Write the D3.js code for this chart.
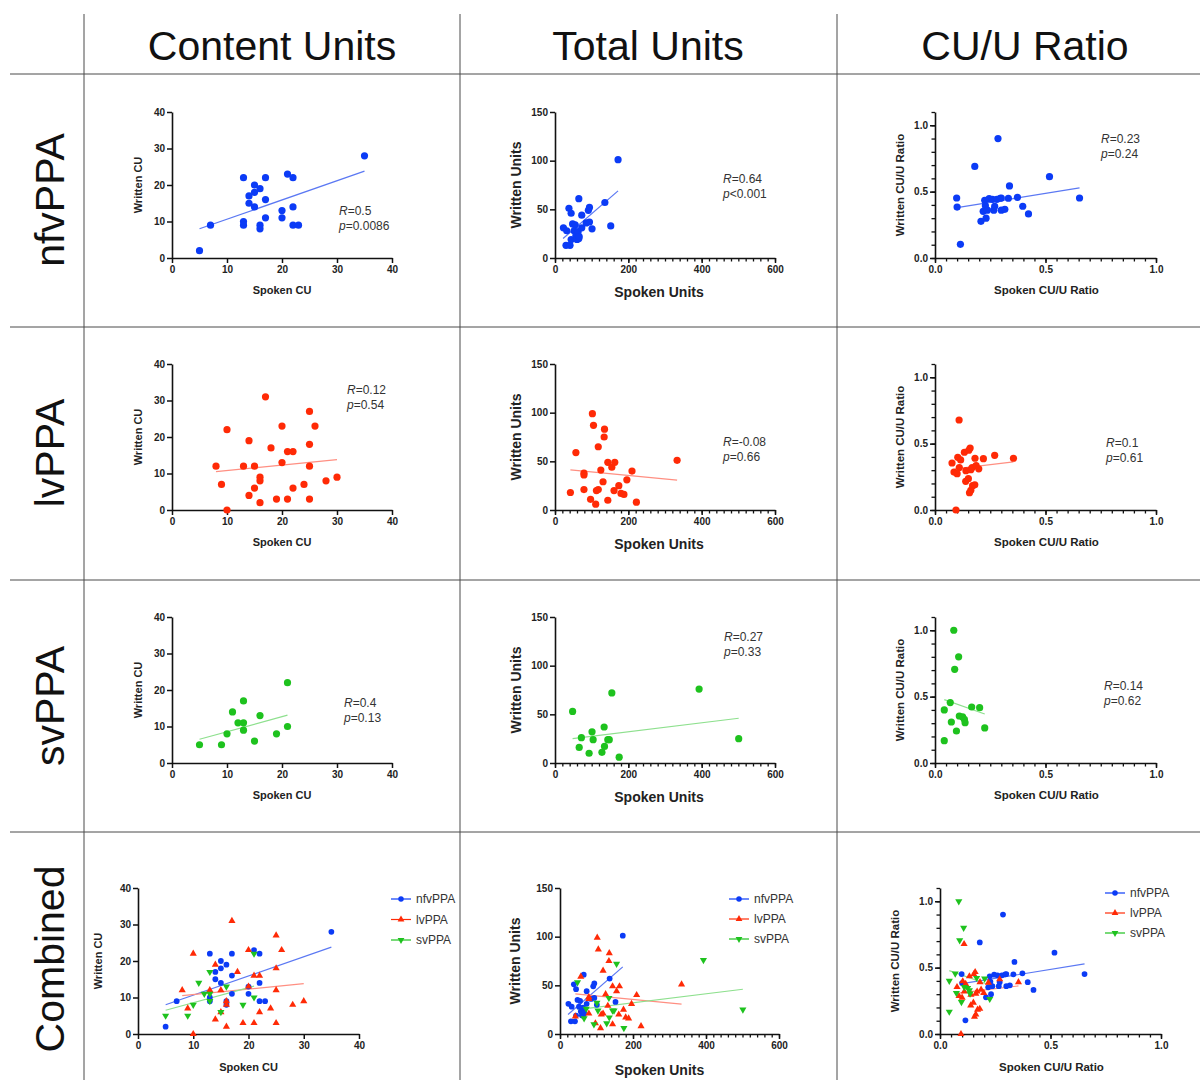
<!DOCTYPE html>
<html><head><meta charset="utf-8">
<script src="https://cdn.jsdelivr.net/npm/d3@7"></script>
<style>
body{margin:0;background:#fff;}
svg{display:block;font-family:"Liberation Sans",Arial,Helvetica,sans-serif;}
</style></head>
<body>
<svg id="chart" width="1200" height="1080"></svg>
<script>
// ---------- DATA ----------
const columnTitles = ["Content Units", "Total Units", "CU/U Ratio"];
const rowTitles = ["nfvPPA", "lvPPA", "svPPA", "Combined"];
const groupNames = ["nfvPPA", "lvPPA", "svPPA"];

// nfvPPA
const nfvCU_spoken  = [5,7,13,13,13,14,14,15,15,15,16,16,16,17,17,17,20,20,21,22,22,22,23,35];
const nfvCU_written = [2,9,22,10,9,17,15,20,18,14,19,9,8,22,16,11,13,11,23,22,14,9,9,28];
const nfvU_spoken   = [23,32,30,41,38,44,48,44,55,52,57,60,65,63,65,73,73,66,85,91,94,94,101,136,152,172];
const nfvU_written  = [31,28,13,13,51,46,35,19,34,28,23,19,61,27,20,44,31,22,36,49,52,37,30,57,33,101];
const nfvR_spoken   = [0.098,0.10,0.115,0.18,0.208,0.218,0.225,0.228,0.231,0.237,0.245,0.26,0.266,0.27,0.28,0.285,0.295,0.30,0.30,0.316,0.332,0.337,0.373,0.397,0.423,0.518,0.654];
const nfvR_written  = [0.452,0.384,0.103,0.69,0.276,0.352,0.435,0.394,0.30,0.36,0.447,0.442,0.36,0.39,0.442,0.90,0.45,0.36,0.452,0.367,0.45,0.543,0.457,0.39,0.332,0.613,0.452];

// lvPPA
const lvCU_spoken  = [8,9,10,10,13,14,14,15,15,16,16,16,17,18,19,20,20,21,21,22,22,24,25,25,25,25,26,28,30];
const lvCU_written = [12,7,22,0,12,19,4,12,6,9,8,2,31,17,3,23,13,16,3,16,6,7,27,18,12,3,23,8,9];
const lvU_spoken   = [42,57,79,79,79,97,102,105,111,113,118,118,125,131,134,135,144,144,155,161,163,174,180,188,196,210,222,333];
const lvU_written  = [18,59,21,38,36,11,99,87,6,20,21,65,41,29,75,83,49,10,44,20,49,25,17,16,31,40,8,51];
const lvR_spoken   = [0.095,0.109,0.077,0.086,0.103,0.11,0.10,0.116,0.133,0.14,0.139,0.151,0.153,0.159,0.162,0.168,0.156,0.162,0.17,0.18,0.181,0.186,0.198,0.219,0.27,0.355];
const lvR_written  = [0.0,0.678,0.354,0.286,0.397,0.32,0.274,0.377,0.435,0.296,0.216,0.236,0.45,0.467,0.304,0.32,0.13,0.148,0.183,0.19,0.39,0.334,0.31,0.387,0.412,0.39];

// svPPA
const svCU_spoken  = [5,9,10,11,12,13,13,13,15,16,19,21,21];
const svCU_written = [5,5,8,14,11,11,9,17,6,13,8,10,22];
const svU_spoken   = [48,66,72,93,101,104,128,134,135,144,148,155,175,393,501];
const svU_written  = [53,16,26,10,32,24,11,37,17,24,24,72,6,76,25];
const svR_spoken   = [0.042,0.042,0.069,0.074,0.085,0.089,0.097,0.107,0.11,0.125,0.133,0.136,0.166,0.202,0.225];
const svR_written  = [0.40,0.168,0.455,0.309,1.0,0.706,0.241,0.80,0.354,0.347,0.329,0.304,0.422,0.417,0.264];

// regression line end points (data units)
const nfvCU_fit = [[5,8.0],[35,23.8]];
const nfvU_fit  = [[22,20],[172,69]];
const nfvR_fit  = [[0.10,0.379],[0.654,0.528]];
const lvCU_fit  = [[8,10.5],[30,13.8]];
const lvU_fit   = [[42,41.3],[333,30.6]];
const lvR_fit   = [[0.09,0.31],[0.355,0.362]];
const svCU_fit  = [[5,6.5],[21,13.1]];
const svU_fit   = [[48,25],[501,46]];
const svR_fit   = [[0.042,0.477],[0.225,0.369]];

// statistics text
const statR = [["0.5","0.64","0.23"],["0.12","-0.08","0.1"],["0.4","0.27","0.14"]];
const statP = [["=0.0086","<0.001","=0.24"],["=0.54","=0.66","=0.61"],["=0.13","=0.33","=0.62"]];

// axis ticks
const cuTicks = [0,10,20,30,40];
const unitXTicks = [0,200,400,600];
const unitYTicks = [0,50,100,150];
const ratioTicks = [0,0.5,1.0];
const axisTitles = [["Spoken CU","Written CU"],["Spoken Units","Written Units"],["Spoken CU/U Ratio","Written CU/U Ratio"]];

// ---------- STYLE ----------
const markColor = ["#0b3bf6","#ff2a06","#1ec21e"];
const lineColor = ["#5b78f3","#ff8f82","#8ee08e"];
const shapes = ["circle","up","down"];

const svg = d3.select("#chart");

// grid
const gridC = "#4a4a4a";
[84,460,837].forEach(x => svg.append("line").attr("x1",x).attr("x2",x).attr("y1",14).attr("y2",1080).attr("stroke",gridC).attr("stroke-width",1));
[74,327,580,832].forEach(y => svg.append("line").attr("x1",10).attr("x2",1200).attr("y1",y).attr("y2",y).attr("stroke",gridC).attr("stroke-width",1));

// headers
const headerX = [272,648,1025];
columnTitles.forEach((t,i)=>svg.append("text").attr("x",headerX[i]).attr("y",60).attr("text-anchor","middle")
  .attr("font-size",41).attr("fill","#111").text(t));
const rowCY = [200,453,706,959];
rowTitles.forEach((t,i)=>svg.append("text").attr("transform",`translate(64,${rowCY[i]}) rotate(-90)`)
  .attr("text-anchor","middle").attr("font-size",41).attr("fill","#111").text(t));

// data lookup
const D = {
  0:{0:[nfvCU_spoken,nfvCU_written,nfvCU_fit],1:[nfvU_spoken,nfvU_written,nfvU_fit],2:[nfvR_spoken,nfvR_written,nfvR_fit]},
  1:{0:[lvCU_spoken,lvCU_written,lvCU_fit],1:[lvU_spoken,lvU_written,lvU_fit],2:[lvR_spoken,lvR_written,lvR_fit]},
  2:{0:[svCU_spoken,svCU_written,svCU_fit],1:[svU_spoken,svU_written,svU_fit],2:[svR_spoken,svR_written,svR_fit]}
};

const colSpec = [
  {xd:[0,40], yd:[0,40], xT:cuTicks, yT:cuTicks, xMinor:[], yMinor:[], xf:d3.format("d"), yf:d3.format("d"), titleSize:11},
  {xd:[0,600], yd:[0,150], xT:unitXTicks, yT:unitYTicks, xMinor:d3.range(0,601,20), yMinor:[], xf:d3.format("d"), yf:d3.format("d"), titleSize:14},
  {xd:[0,1], yd:[0,1.1], xT:ratioTicks, yT:ratioTicks, xMinor:d3.range(0,21).map(i=>i*0.05), yMinor:d3.range(0,12).map(i=>i*0.1), xf:d3.format(".1f"), yf:d3.format(".1f"), titleSize:11.5}
];

function symbolPath(shape, size){
  if(shape==="circle") return d3.symbol(d3.symbolCircle, size)();
  return d3.symbol(d3.symbolTriangle, size)();
}

function drawPanel(opt){
  const spec = colSpec[opt.col];
  const x = d3.scaleLinear().domain(spec.xd).range([opt.left, opt.left+opt.width]);
  const y = d3.scaleLinear().domain(spec.yd).range([opt.bottom, opt.bottom-opt.height]);
  const g = svg.append("g");
  // minor ticks
  if(spec.xMinor.length){
    g.append("g").attr("transform",`translate(0,${opt.bottom})`)
      .call(d3.axisBottom(x).tickValues(spec.xMinor).tickSize(3.5).tickFormat("").tickSizeOuter(0))
      .call(a=>a.select(".domain").remove()).selectAll("line").attr("stroke","#111").attr("stroke-width",1.3);
  }
  if(spec.yMinor.length){
    g.append("g").attr("transform",`translate(${opt.left},0)`)
      .call(d3.axisLeft(y).tickValues(spec.yMinor).tickSize(3.5).tickFormat("").tickSizeOuter(0))
      .call(a=>a.select(".domain").remove()).selectAll("line").attr("stroke","#111").attr("stroke-width",1.3);
  }
  const xa = g.append("g").attr("transform",`translate(0,${opt.bottom})`)
    .call(d3.axisBottom(x).tickValues(spec.xT).tickFormat(spec.xf).tickSize(5).tickSizeOuter(0).tickPadding(3));
  const ya = g.append("g").attr("transform",`translate(${opt.left},0)`)
    .call(d3.axisLeft(y).tickValues(spec.yT).tickFormat(spec.yf).tickSize(5).tickSizeOuter(0).tickPadding(2));
  [xa,ya].forEach(a=>{
    a.select(".domain").attr("stroke","#111").attr("stroke-width",1.6);
    a.selectAll(".tick line").attr("stroke","#111").attr("stroke-width",1.5);
    a.selectAll("text").attr("font-size",10).attr("font-weight","bold").attr("fill","#222")
      .attr("font-family","Liberation Sans, Arial, sans-serif");
  });
  // titles
  const [xt,yt] = axisTitles[opt.col];
  g.append("text").attr("x",opt.left+opt.width/2+opt.xTitleDx).attr("y",opt.xTitleY).attr("text-anchor","middle")
    .attr("font-size",spec.titleSize).attr("font-weight","bold").attr("fill","#222").text(xt);
  g.append("text").attr("transform",`translate(${opt.yTitleX},${opt.yTitleCY}) rotate(-90)`).attr("text-anchor","middle")
    .attr("dominant-baseline","central").attr("font-size",spec.titleSize).attr("font-weight","bold").attr("fill","#222").text(yt);

  // series
  opt.groups.forEach(gi=>{
    const [xs,ys,fit] = D[gi][opt.col];
    g.append("line").attr("x1",x(fit[0][0])).attr("y1",y(fit[0][1])).attr("x2",x(fit[1][0])).attr("y2",y(fit[1][1]))
      .attr("stroke",lineColor[gi]).attr("stroke-width",1.2);
  });
  opt.groups.forEach(gi=>{
    const [xs,ys] = D[gi][opt.col];
    const pts = xs.map((v,i)=>[v,ys[i]]);
    if(!opt.combined){
      g.selectAll(null).data(pts).enter().append("circle")
        .attr("cx",d=>x(d[0])).attr("cy",d=>y(d[1])).attr("r",3.6).attr("fill",markColor[gi]);
    } else {
      const sz = shapes[gi]==="circle" ? 26 : 22;
      g.selectAll(null).data(pts).enter().append("path")
        .attr("d",symbolPath(shapes[gi],sz))
        .attr("transform",d=>`translate(${x(d[0])},${y(d[1])})${shapes[gi]==="down"?" rotate(180)":""}`)
        .attr("fill",markColor[gi]);
    }
  });
  // stats text
  if(opt.stats){
    const t1 = g.append("text").attr("x",opt.stats[0]).attr("y",opt.stats[1]).attr("font-size",12).attr("fill","#333");
    t1.append("tspan").attr("font-style","italic").text("R");
    t1.append("tspan").text("="+statR[opt.row][opt.col]);
    const t2 = g.append("text").attr("x",opt.stats[0]).attr("y",opt.stats[1]+14.5).attr("font-size",12).attr("fill","#333");
    t2.append("tspan").attr("font-style","italic").text("p");
    t2.append("tspan").text(statP[opt.row][opt.col]);
  }
  // legend
  if(opt.legend){
    const [lx,ly,dy] = opt.legend;
    groupNames.forEach((name,gi)=>{
      const cy = ly+gi*dy;
      g.append("line").attr("x1",lx).attr("x2",lx+20).attr("y1",cy).attr("y2",cy).attr("stroke",markColor[gi]).attr("stroke-width",1.2);
      g.append("path").attr("d",symbolPath(shapes[gi],shapes[gi]==="circle"?24:20))
        .attr("transform",`translate(${lx+10},${cy})${shapes[gi]==="down"?" rotate(180)":""}`).attr("fill",markColor[gi]);
      g.append("text").attr("x",lx+25).attr("y",cy+4).attr("font-size",12).attr("fill","#333").text(name);
    });
  }
}

// single-group panels
const colLeft = [172,555,935];
const colWidth = [220,220,221];
const rowBottom = [258,510,763];
const yTitleX = [138,516,900];
const xTitleDy = [36,39,36];
const xTitleShift = [0,-6,1];
const statsPos = [
  [[339,215],[723,183],[1101,143]],
  [[347,394],[723,446],[1106,447]],
  [[344,707],[724,641],[1104,690]]
];
for(let r=0;r<3;r++){
  for(let c=0;c<3;c++){
    drawPanel({row:r,col:c,left:colLeft[c],width:colWidth[c],bottom:rowBottom[r],height:146,
      xTitleY:rowBottom[r]+xTitleDy[c], xTitleDx: xTitleShift[c],
      yTitleX:yTitleX[c], yTitleCY:rowBottom[r]-73,
      groups:[r], combined:false, stats:statsPos[r][c]});
  }
}
// combined panels
const comb = [
  {left:138,width:221,yTitleX:98,xTitleY:1071,legend:[391,899,20.5],dx:0},
  {left:560,width:219,yTitleX:515,xTitleY:1075,legend:[729,899,20],dx:-10},
  {left:940,width:221,yTitleX:895,xTitleY:1071,legend:[1105,893,20],dx:1}
];
comb.forEach((o,c)=>{
  drawPanel({row:3,col:c,left:o.left,width:o.width,bottom:1034,height:146,
    xTitleY:o.xTitleY, xTitleDx:o.dx, yTitleX:o.yTitleX, yTitleCY:1034-73,
    groups:[0,1,2], combined:true, stats:null, legend:o.legend});
});
</script>
</body></html>
